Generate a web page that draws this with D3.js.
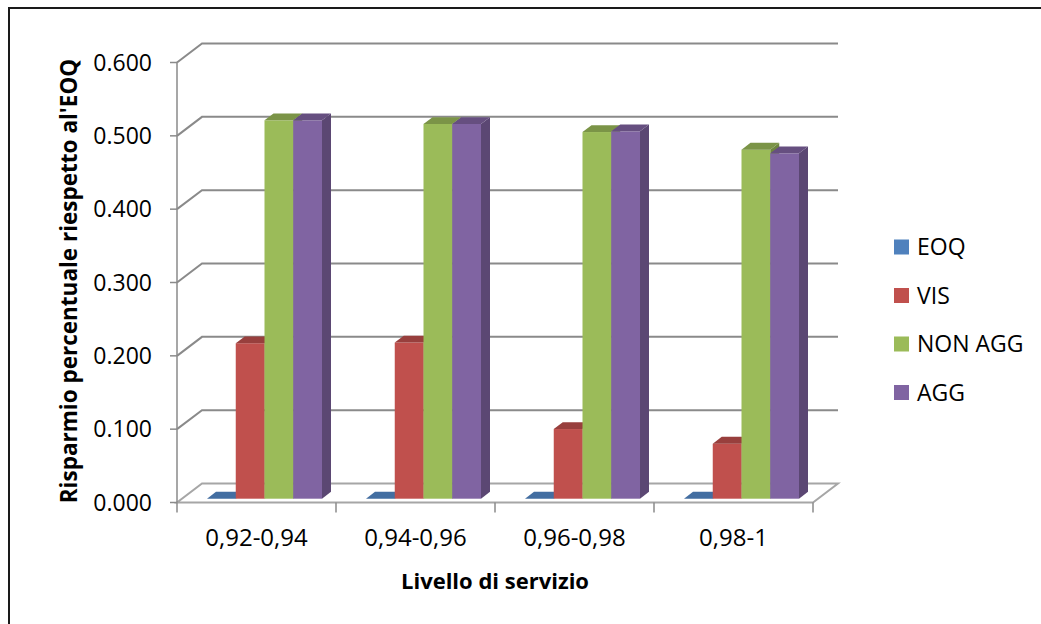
<!DOCTYPE html>
<html>
<head>
<meta charset="utf-8">
<script src="https://cdn.jsdelivr.net/npm/d3@7"></script>
<style>
  body { margin: 0; background: #fff; }
  text { font-family: 'Open Sans', sans-serif; fill: #000; }
</style>
</head>
<body>
<div id="chart"></div>
<script>
const categories = ['0,92-0,94', '0,94-0,96', '0,96-0,98', '0,98-1'];
const seriesNames = ['EOQ', 'VIS', 'NON AGG', 'AGG'];
const eoq = [0, 0, 0, 0];
const vis = [0.212, 0.213, 0.095, 0.075];
const nonAgg = [0.516, 0.511, 0.500, 0.476];
const agg = [0.516, 0.511, 0.501, 0.471];
const yTicks = [0, 0.1, 0.2, 0.3, 0.4, 0.5, 0.6];
const colors = ['#4F81BD', '#C0504D', '#9BBB59', '#8064A2'];

const seriesValues = [eoq, vis, nonAgg, agg];

const width = 1041;
const height = 624;

// depth of the 3d box and of the bars (in px)
const depthX = 25;
const depthY = -19;
const barFront = 0.2;
const barBack = 0.56;

const svg = d3
  .select('#chart')
  .append('svg')
  .attr('width', width)
  .attr('height', height);

// outer frame (right and bottom edges sit outside the picture)
svg.append('rect')
  .attr('x', 9).attr('y', 8)
  .attr('width', 1100).attr('height', 700)
  .attr('fill', 'none')
  .attr('stroke', '#1a1a1a')
  .attr('stroke-width', 2);

const x0 = d3.scaleBand().domain(categories).range([177, 813]);
const x1 = d3.scaleBand().domain(seriesNames).range([25, 140]);
const y = d3.scaleLinear().domain([0, 0.6]).range([502.5, 62.5]);

const grid = svg.append('g');
// floor
grid.append('path')
  .attr('d', `M${177},${y(0)}L${813},${y(0)}L${813 + depthX},${y(0) + depthY}L${177 + depthX},${y(0) + depthY}Z`)
  .attr('fill', '#fff')
  .attr('stroke', '#a6a6a6')
  .attr('stroke-width', 2);

// back wall + side wall grid lines
yTicks.filter(d => d > 0).forEach(d => {
  grid.append('path')
    .attr('d', `M177,${y(d)}L${177 + depthX},${y(d) + depthY}L${813 + depthX},${y(d) + depthY}`)
    .attr('fill', 'none')
    .attr('stroke', '#8a8a8a')
    .attr('stroke-width', 2);
});

// y axis line + ticks
grid.append('line')
  .attr('x1', 177).attr('x2', 177)
  .attr('y1', y(0.6)).attr('y2', y(0))
  .attr('stroke', '#8a8a8a').attr('stroke-width', 1.5);
grid.selectAll('.ytick')
  .data(yTicks)
  .enter()
  .append('line')
  .attr('x1', 170).attr('x2', 177)
  .attr('y1', d => y(d)).attr('y2', d => y(d))
  .attr('stroke', '#8a8a8a').attr('stroke-width', 1.5);

// x axis ticks
const xEdges = categories.map(c => x0(c)).concat([813]);
grid.selectAll('.xtick')
  .data(xEdges)
  .enter()
  .append('line')
  .attr('x1', d => d).attr('x2', d => d)
  .attr('y1', y(0)).attr('y2', y(0) + 10)
  .attr('stroke', '#8a8a8a').attr('stroke-width', 1.5);

// bars
const bars = [];
categories.forEach((c, ci) => {
  seriesNames.forEach((s, si) => {
    bars.push({ c, s, si, v: seriesValues[si][ci] });
  });
});

const bdx = (barBack - barFront) * depthX;
const bdy = (barBack - barFront) * depthY;
const bw = x1.bandwidth();

const barG = svg.append('g');
bars.forEach(b => {
  const xl = x0(b.c) + x1(b.s) + barFront * depthX;
  const xr = xl + bw;
  const yb = y(0) + barFront * depthY;
  const yt = y(b.v) + barFront * depthY;
  const base = d3.color(colors[b.si]);
  const g = barG.append('g');
  // side
  g.append('path')
    .attr('d', `M${xr},${yt}L${xr + bdx},${yt + bdy}L${xr + bdx},${yb + bdy}L${xr},${yb}Z`)
    .attr('fill', base.darker(0.95));
  // front
  g.append('rect')
    .attr('x', xl).attr('y', yt)
    .attr('width', bw).attr('height', yb - yt)
    .attr('fill', base);
  // top
  g.append('path')
    .attr('d', `M${xl},${yt}L${xr},${yt}L${xr + bdx},${yt + bdy}L${xl + bdx},${yt + bdy}Z`)
    .attr('fill', b.v === 0 ? base.darker(0.45) : base.darker(0.65));
});

// y tick labels
svg.selectAll('.ylabel')
  .data(yTicks)
  .enter()
  .append('text')
  .attr('x', 152)
  .attr('y', d => y(d) + 8)
  .attr('text-anchor', 'end')
  .style('font-size', '23px')
  .text(d => d3.format('.3f')(d));

// category labels
svg.selectAll('.xlabel')
  .data(categories)
  .enter()
  .append('text')
  .attr('x', d => x0(d) + x0.bandwidth() / 2)
  .attr('y', 546)
  .attr('text-anchor', 'middle')
  .style('font-size', '24px')
  .text(d => d);

// axis titles
svg.append('text')
  .attr('x', 495)
  .attr('y', 589)
  .attr('text-anchor', 'middle')
  .style('font-size', '22px')
  .style('font-weight', 'bold')
  .text('Livello di servizio');

svg.append('text')
  .attr('transform', 'translate(77,281) rotate(-90)')
  .attr('text-anchor', 'middle')
  .style('font-size', '22.5px')
  .style('font-weight', 'bold')
  .text("Risparmio percentuale riespetto al'EOQ");

// legend
const legend = svg.selectAll('.legend')
  .data(seriesNames)
  .enter()
  .append('g')
  .attr('transform', (d, i) => `translate(894,${247 + i * 48.5})`);
legend.append('rect')
  .attr('x', 0).attr('y', -7.5)
  .attr('width', 15).attr('height', 15)
  .attr('fill', (d, i) => colors[i]);
legend.append('text')
  .attr('x', 23)
  .attr('y', 8)
  .style('font-size', '23px')
  .text(d => d);
</script>
</body>
</html>
